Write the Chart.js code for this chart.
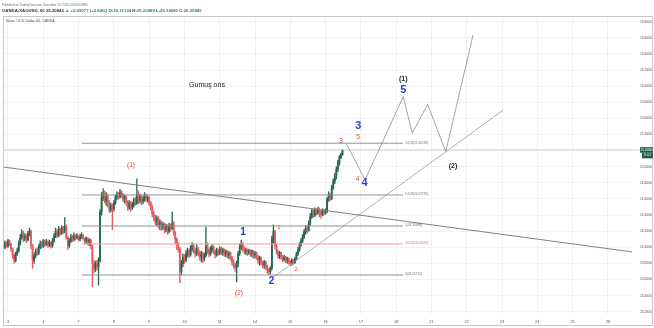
<!DOCTYPE html>
<html>
<head>
<meta charset="utf-8">
<script src="https://cdn.jsdelivr.net/npm/chart.js@4.4.0/dist/chart.umd.min.js"></script>
<style>
  html, body { margin: 0; padding: 0; background: #fff; }
</style>
</head>
<body>
<canvas id="silver" width="654" height="328"></canvas>
<script>
// XAGUSD 1h, OANDA - Dec 2020
const dayLabels = ['3','4','7','8','9','10','11','14','15','16','17','18','21','22','23','24','25','28']
const barsPerDay = 23
const firstDayBar = 2
const priceTicks = [23.2,23.4,23.6,23.8,24.0,24.2,24.4,24.6,24.8,25.0,25.2,25.4,25.6,25.8,26.0,26.2,26.4,26.6,26.8]

const firstOpen = 24.00
const closes = [
  24.05,24.02,24.08,24.04,23.98,23.90,23.84,23.92,23.96,24.05,
  24.12,24.18,24.10,24.14,24.09,24.17,24.20,24.02,23.84,23.90,
  23.95,23.93,24.00,24.05,24.02,24.08,24.04,24.07,24.03,24.06,
  24.02,24.08,24.14,24.20,24.15,24.22,24.18,24.24,24.20,24.26,
  24.12,24.02,24.08,24.13,24.10,24.15,24.12,24.14,24.10,24.13,
  24.15,24.11,24.08,24.11,24.06,24.09,24.02,23.80,23.74,23.80,
  23.76,23.84,24.44,24.62,24.66,24.58,24.63,24.55,24.47,24.52,
  24.48,24.55,24.62,24.66,24.63,24.69,24.65,24.60,24.63,24.56,
  24.50,24.55,24.49,24.53,24.59,24.55,24.66,24.58,24.63,24.57,
  24.60,24.65,24.60,24.62,24.55,24.50,24.42,24.38,24.32,24.36,
  24.28,24.31,24.25,24.29,24.22,24.26,24.20,24.27,24.24,24.30,
  24.18,24.10,24.02,23.98,23.70,23.80,23.88,23.84,23.92,23.96,
  23.91,23.98,24.02,23.96,23.92,23.98,23.93,23.88,23.92,23.86,
  23.90,24.02,23.96,23.92,23.97,24.00,23.95,23.91,23.96,23.93,
  23.98,23.94,23.97,23.92,23.95,23.90,23.93,23.87,23.82,23.78,
  23.75,23.80,23.92,24.00,24.04,23.99,23.95,23.97,23.93,23.96,
  23.92,23.95,23.90,23.93,23.88,23.84,23.87,23.81,23.78,23.82,
  23.76,23.72,23.70,23.74,24.10,24.20,24.02,23.95,23.90,23.93,
  23.88,23.85,23.88,23.84,23.86,23.82,23.80,23.84,23.81,23.86,
  23.92,23.97,24.03,24.08,24.13,24.19,24.24,24.21,24.30,24.38,
  24.45,24.40,24.46,24.43,24.47,24.44,24.41,24.46,24.43,24.45,
  24.60,24.66,24.61,24.74,24.82,24.88,24.97,25.05,25.12,25.15124,25.20845
]
const highs = [
  24.08,24.07,24.10,24.09,24.05,23.99,23.92,23.94,23.99,24.08,
  24.16,24.22,24.20,24.17,24.16,24.20,24.24,24.21,24.04,23.93,
  23.98,23.99,24.03,24.08,24.07,24.10,24.09,24.10,24.08,24.09,
  24.07,24.11,24.17,24.24,24.22,24.26,24.24,24.27,24.26,24.37,
  24.28,24.14,24.11,24.16,24.15,24.18,24.16,24.17,24.15,24.16,
  24.18,24.16,24.12,24.13,24.12,24.11,24.10,24.03,23.84,23.83,
  23.84,23.87,24.47,24.68,24.73,24.70,24.68,24.66,24.58,24.55,
  24.54,24.58,24.65,24.69,24.68,24.72,24.70,24.67,24.65,24.64,
  24.58,24.58,24.57,24.56,24.61,24.62,24.85,24.70,24.66,24.65,
  24.63,24.68,24.66,24.64,24.63,24.57,24.52,24.45,24.40,24.39,
  24.38,24.34,24.33,24.31,24.30,24.29,24.28,24.30,24.29,24.44,
  24.32,24.20,24.12,24.06,24.00,23.84,23.92,23.91,23.96,23.99,
  23.98,24.02,24.06,24.04,23.99,24.03,24.00,23.96,23.95,23.94,
  23.93,24.25,24.06,23.99,24.01,24.03,24.02,23.97,23.99,23.98,
  24.01,24.00,23.99,23.98,23.97,23.96,23.95,23.94,23.89,23.85,
  23.80,23.83,23.95,24.04,24.09,24.06,24.01,23.99,23.98,23.98,
  23.97,23.97,23.96,23.95,23.94,23.90,23.89,23.88,23.83,23.84,
  23.83,23.78,23.74,23.76,24.14,24.278,24.21,24.04,23.97,23.95,
  23.94,23.90,23.90,23.89,23.88,23.87,23.84,23.86,23.85,23.88,
  23.94,24.00,24.06,24.11,24.16,24.22,24.27,24.27,24.33,24.42,
  24.48,24.47,24.49,24.48,24.50,24.49,24.46,24.48,24.47,24.48,
  24.62,24.69,24.67,24.77,24.85,24.92,25.00,25.08,25.14,25.17,25.2088
]
const lows = [
  23.98,24.00,24.00,24.02,23.95,23.86,23.80,23.82,23.90,23.94,
  24.03,24.10,24.07,24.08,24.06,24.08,24.14,23.98,23.74,23.80,
  23.87,23.90,23.91,23.98,23.99,24.00,24.01,24.02,24.00,24.01,
  23.99,24.00,24.06,24.12,24.12,24.13,24.15,24.16,24.17,24.18,
  24.10,23.97,24.00,24.06,24.07,24.08,24.09,24.10,24.08,24.08,
  24.11,24.09,24.05,24.05,24.03,24.02,23.98,23.51,23.68,23.70,
  23.72,23.53,23.82,24.40,24.58,24.55,24.52,24.50,24.43,24.44,
  24.22,24.45,24.53,24.59,24.60,24.61,24.62,24.57,24.55,24.52,
  24.46,24.47,24.45,24.47,24.50,24.52,24.53,24.54,24.55,24.53,
  24.54,24.57,24.57,24.56,24.52,24.46,24.38,24.33,24.28,24.27,
  24.24,24.22,24.21,24.22,24.18,24.19,24.16,24.18,24.20,24.22,
  24.15,24.05,23.97,23.94,23.56,23.66,23.76,23.80,23.82,23.88,
  23.87,23.89,23.95,23.93,23.88,23.90,23.89,23.84,23.82,23.81,
  23.83,23.88,23.92,23.88,23.90,23.94,23.92,23.87,23.89,23.90,
  23.91,23.91,23.90,23.89,23.88,23.87,23.86,23.84,23.78,23.74,
  23.70,23.57,23.76,23.90,23.97,23.95,23.92,23.91,23.90,23.91,
  23.89,23.88,23.86,23.87,23.85,23.80,23.78,23.78,23.75,23.74,
  23.72,23.68,23.657,23.67,23.72,24.05,23.98,23.92,23.87,23.86,
  23.85,23.82,23.83,23.81,23.80,23.79,23.77,23.78,23.79,23.80,
  23.85,23.90,23.95,24.01,24.06,24.11,24.16,24.18,24.20,24.28,
  24.36,24.37,24.38,24.40,24.41,24.38,24.36,24.39,24.40,24.41,
  24.43,24.57,24.58,24.59,24.72,24.79,24.85,24.94,25.02,25.10,25.1408
]
const opens = closes.map((c, i) => i === 0 ? firstOpen : closes[i - 1])
const lastClose = closes[closes.length - 1]

// drawings (bar index, price)
const fibLevels = [25.292, 24.650, 24.265, 24.042, 23.657]
const fibTexts = ['2.618(25.30239)', '1.618(24.67795)', '1(24.30488)', '0.618(24.04092)', '0(23.65715)']
const fibSpan = [50.2, 259.4]
const downTrend = [[-2, 24.999], [410, 23.940]]
const upTrend = [[173.9, 23.616], [324.8, 25.704]]
const wavePath = [[222.7, 25.283], [234.7, 24.836], [259.6, 25.869], [265.5, 25.415], [275.5, 25.775], [287.3, 25.187], [305.1, 26.635]]

const upColor = '#25684f'
const downColor = '#e35d61'
const red = '#e8453c'
const blue = '#2c3fd1'
const font = '"Liberation Sans", Arial, sans-serif'

const waveLabels = [
  {t: 'Gumuş ons', x: 131.7, y: 26.013, c: '#222', s: 7, w: 'normal'},
  {t: '(1)', x: 82.2, y: 25.02, c: red, s: 6.5, w: 'normal'},
  {t: '(2)', x: 152.6, y: 23.428, c: red, s: 6.5, w: 'normal'},
  {t: '1', x: 155.2, y: 24.185, c: blue, s: 10, w: 'bold'},
  {t: '2', x: 173.7, y: 23.583, c: blue, s: 10, w: 'bold'},
  {t: '1', x: 178.6, y: 24.249, c: red, s: 6, w: 'normal'},
  {t: '2', x: 189.7, y: 23.728, c: red, s: 6, w: 'normal'},
  {t: '3', x: 219.0, y: 25.324, c: red, s: 7, w: 'normal'},
  {t: '3', x: 230.3, y: 25.512, c: blue, s: 11, w: 'bold'},
  {t: '5', x: 230.1, y: 25.376, c: '#f0643c', s: 7.5, w: 'normal'},
  {t: '4', x: 229.9, y: 24.842, c: red, s: 6.5, w: 'normal'},
  {t: '4', x: 234.4, y: 24.795, c: blue, s: 11, w: 'bold'},
  {t: '(1)', x: 259.6, y: 26.085, c: '#222', s: 7, w: 'bold'},
  {t: '5', x: 259.6, y: 25.953, c: blue, s: 11, w: 'bold'},
  {t: '(2)', x: 292.0, y: 25.003, c: '#222', s: 7, w: 'bold'}
]

const candleColors = closes.map((c, i) => c >= opens[i] ? upColor : downColor)
const wickData = highs.map((h, i) => ({x: i, y: [Math.min(lows[i], opens[i], closes[i]), Math.max(h, opens[i], closes[i])]}))
const bodyData = closes.map((c, i) => ({x: i, y: [opens[i], c]}))

const toPts = arr => arr.map(p => ({x: p[0], y: p[1]}))
const lineSet = (data, color, extra) => Object.assign({
  type: 'line', data: data, borderColor: color, borderWidth: 0.8,
  pointRadius: 0, tension: 0, fill: false, order: 0
}, extra || {})

const datasets = [
  {type: 'bar', data: wickData, backgroundColor: candleColors, barThickness: 0.7, grouped: false, order: 3},
  {type: 'bar', data: bodyData, backgroundColor: candleColors, barThickness: 1.2, minBarLength: 1, grouped: false, order: 2}
]
fibLevels.forEach((lv, k) => {
  datasets.push(lineSet([{x: fibSpan[0], y: lv}, {x: fibSpan[1], y: lv}], k === 3 ? '#f09a9a' : '#8e9198', {borderWidth: 1}))
})
datasets.push(lineSet(toPts(downTrend), '#7d8087', {borderWidth: 1}))
datasets.push(lineSet(toPts(upTrend), '#9a9ca3'))
datasets.push(lineSet(toPts(wavePath), '#8a8d94'))
datasets.push(lineSet([{x: -5, y: lastClose}, {x: 414, y: lastClose}], '#c3c6cc', {borderWidth: 0.8, clip: {left: 0, top: 0, right: 8, bottom: 0}}))

const notes = {
  id: 'notes',
  afterDatasetsDraw(chart) {
    const ctx = chart.ctx
    const xs = chart.scales.x, ys = chart.scales.y
    ctx.save()
    ctx.textAlign = 'center'
    ctx.textBaseline = 'middle'
    waveLabels.forEach(l => {
      ctx.font = l.w + ' ' + l.s + 'px ' + font
      ctx.fillStyle = l.c
      ctx.fillText(l.t, xs.getPixelForValue(l.x), ys.getPixelForValue(l.y))
    })
    ctx.textAlign = 'left'
    ctx.font = '3.2px ' + font
    fibLevels.forEach((lv, k) => {
      ctx.fillStyle = k === 3 ? '#e86c6c' : '#6f7279'
      ctx.fillText(fibTexts[k], xs.getPixelForValue(fibSpan[1]) + 2, ys.getPixelForValue(lv) - 0.5)
    })
    ctx.restore()
  }
}

const chrome = {
  id: 'chrome',
  beforeDraw(chart) {
    const ctx = chart.ctx
    ctx.save()
    ctx.fillStyle = '#fff'
    ctx.fillRect(0, 0, chart.width, chart.height)
    ctx.restore()
  },
  afterDraw(chart) {
    const ctx = chart.ctx
    const area = chart.chartArea
    ctx.save()
    ctx.strokeStyle = '#c4c7cd'
    ctx.lineWidth = 1
    ctx.strokeRect(3.5, 16.5, 649, 309)

    ctx.textAlign = 'left'
    ctx.textBaseline = 'middle'
    ctx.font = '2.9px ' + font
    ctx.fillStyle = '#6a6d74'
    ctx.fillText('Published on TradingView.com, December 16, 2020 14:09:00 MSK', 2, 5)

    const parts = [
      ['OANDA:XAGUSD, 60 ', '#333'], ['25.20845 ', '#333'], ['▲ +0.69077 (+2.84%) ', '#2a8a70'],
      ['O:', '#333'], ['25.15124 ', '#2a8a70'], ['H:', '#333'], ['25.20880 ', '#2a8a70'],
      ['L:', '#333'], ['25.14080 ', '#2a8a70'], ['C:', '#333'], ['25.20845', '#2a8a70']
    ]
    ctx.font = 'bold 4.3px ' + font
    let px = 2
    parts.forEach(p => {
      ctx.fillStyle = p[1]
      ctx.fillText(p[0], px, 11)
      px += ctx.measureText(p[0]).width
    })

    ctx.font = '3.5px ' + font
    ctx.fillStyle = '#555'
    ctx.fillText('Silver / U.S. Dollar, 60, OANDA', 6, 21)

    // last price tag on the price axis
    const yy = chart.scales.y.getPixelForValue(lastClose)
    const bx = area.right + 8
    ctx.fillStyle = '#1f5e50'
    ctx.fillRect(bx, yy - 2.8, 13, 5.6)
    ctx.fillRect(bx + 2, yy + 2.8, 11, 5.6)
    ctx.fillStyle = '#fff'
    ctx.font = '3px ' + font
    ctx.fillText(lastClose.toFixed(5), bx + 0.6, yy)
    ctx.fillText('11:01', bx + 3.6, yy + 5.6)
    ctx.restore()
  }
}

new Chart(document.getElementById('silver'), {
  data: {datasets: datasets},
  options: {
    responsive: false,
    animation: false,
    events: [],
    layout: {padding: {left: 4, top: 17, right: 1, bottom: 2}},
    plugins: {legend: {display: false}, tooltip: {enabled: false}},
    scales: {
      x: {
        type: 'linear',
        offset: false,
        min: -0.607,
        max: 408.7,
        afterBuildTicks: axis => { axis.ticks = dayLabels.map((d, k) => ({value: firstDayBar + k * barsPerDay})) },
        afterFit: axis => { axis.height = 12 },
        ticks: {
          autoSkip: false, maxRotation: 0, padding: 5,
          color: '#555', font: {size: 4, family: font},
          callback: v => dayLabels[Math.round((v - firstDayBar) / barsPerDay)]
        },
        grid: {color: '#eff1f4', lineWidth: 1, drawTicks: false, offset: false},
        border: {display: false}
      },
      y: {
        type: 'linear',
        position: 'right',
        min: 23.173,
        max: 26.858,
        afterBuildTicks: axis => { axis.ticks = priceTicks.map(v => ({value: v})) },
        afterFit: axis => { axis.width = 21 },
        ticks: {
          autoSkip: false, padding: 8, crossAlign: 'near',
          color: '#555', font: {size: 3, family: font},
          callback: v => v.toFixed(5)
        },
        grid: {color: '#eff1f4', lineWidth: 1, drawTicks: false},
        border: {display: false}
      }
    }
  },
  plugins: [chrome, notes]
})
</script>
</body>
</html>
